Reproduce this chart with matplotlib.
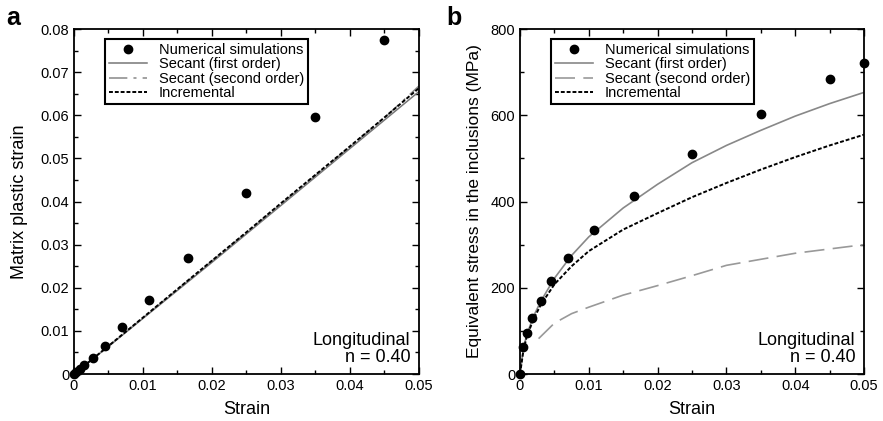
import numpy as np
import matplotlib
matplotlib.use("Agg")
import matplotlib.pyplot as plt
from matplotlib.ticker import MultipleLocator

plt.rcParams['font.family'] = ['Liberation Sans', 'DejaVu Sans']

# === Panel a: matrix plastic strain ===
a_sim_x = [0, 0.0003, 0.0008, 0.0015, 0.0027, 0.0045, 0.007, 0.0108, 0.0165, 0.025, 0.035, 0.045]
a_sim_y = [0, 0.0005, 0.0012, 0.0022, 0.0038, 0.0065, 0.0108, 0.0172, 0.027, 0.042, 0.0597, 0.0775]
a_line_x = [0, 0.005, 0.01, 0.015, 0.02, 0.025, 0.03, 0.035, 0.04, 0.045, 0.05]
a_sec1 = [0, 0.0064, 0.0129, 0.0194, 0.0259, 0.0325, 0.0391, 0.0457, 0.0523, 0.0589, 0.0655]
a_sec2 = [0, 0.0065, 0.0130, 0.0196, 0.0262, 0.0328, 0.0394, 0.0460, 0.0527, 0.0594, 0.0668]
a_incr = [0, 0.0065, 0.0131, 0.0197, 0.0263, 0.0329, 0.0396, 0.0462, 0.0528, 0.0595, 0.0663]

# === Panel b: equivalent stress in the inclusions (MPa) ===
b_sim_x = [0, 0.0005, 0.001, 0.0018, 0.003, 0.0045, 0.007, 0.0108, 0.0165, 0.025, 0.035, 0.045, 0.05]
b_sim_y = [0, 62, 95, 130, 170, 215, 270, 333, 412, 510, 602, 685, 722]
b_line_x = [0, 0.0005, 0.001, 0.002, 0.003, 0.005, 0.0075, 0.01, 0.015, 0.02,
            0.025, 0.03, 0.035, 0.04, 0.045, 0.05]
b_sec1 = [0, 60, 92, 135, 168, 222, 275, 318, 385, 440, 490, 530, 565, 598, 627, 653]
b_incr = [0, 55, 88, 128, 160, 208, 250, 285, 335, 373, 410, 443, 474, 503, 530, 555]
b_sec2_x = [0.0027, 0.005, 0.0075, 0.01, 0.015, 0.02, 0.025, 0.03, 0.035, 0.04, 0.045, 0.05]
b_sec2 = [82, 118, 140, 155, 183, 205, 228, 252, 266, 280, 290, 300]

fig = plt.figure(figsize=(8.83, 4.21), dpi=100)
ax_a = fig.add_axes([0.0838, 0.1116, 0.3907, 0.8195])
ax_b = fig.add_axes([0.5889, 0.1116, 0.3896, 0.8195])


def style_axes(ax):
    ax.tick_params(which='both', direction='in', top=True, right=True, width=1.0, labelsize=10.5)
    ax.tick_params(which='major', length=5)
    ax.tick_params(which='minor', length=3)
    for s in ax.spines.values():
        s.set_linewidth(1.3)
    ax.set_xlim(0, 0.05)
    ax.xaxis.set_major_locator(MultipleLocator(0.01))
    ax.xaxis.set_minor_locator(MultipleLocator(0.005))
    ax.xaxis.set_major_formatter(plt.FuncFormatter(lambda v, p: '0' if v == 0 else f'{v:g}'))
    ax.set_xlabel('Strain', fontsize=13, labelpad=6)
    ax.text(0.975, 0.022, 'Longitudinal\nn = 0.40', transform=ax.transAxes, ha='right', va='bottom',
            fontsize=13, linespacing=1.0)


def add_legend(ax, handles):
    leg = ax.legend(handles=handles, loc='upper left', bbox_to_anchor=(0.09, 0.971),
                    borderaxespad=0, fontsize=10.5, frameon=True, fancybox=False, framealpha=1,
                    edgecolor='black', labelspacing=0.02, handlelength=2.6, handletextpad=0.8,
                    borderpad=0.28)
    leg.get_frame().set_linewidth(1.5)


# Panel a
ax = ax_a
style_axes(ax)
ax.set_ylim(0, 0.08)
ax.yaxis.set_major_locator(MultipleLocator(0.01))
ax.yaxis.set_minor_locator(MultipleLocator(0.005))
ax.yaxis.set_major_formatter(plt.FuncFormatter(lambda v, p: '0' if v == 0 else f'{v:.2f}'))
ax.set_ylabel('Matrix plastic strain', fontsize=13, labelpad=9)
h1, = ax.plot(a_sim_x, a_sim_y, 'o', color='black', ms=6, label='Numerical simulations', clip_on=False, zorder=5)
h2, = ax.plot(a_line_x, a_sec1, '-', color='#777777', lw=1.1, label='Secant (first order)')
h3, = ax.plot(a_line_x, a_sec2, color='#888888', lw=1.1, dashes=(12, 4, 2, 4), label='Secant (second order)')
h4, = ax.plot(a_line_x, a_incr, color='black', lw=1.4, dashes=(2, 1), label='Incremental')
add_legend(ax, [h1, h2, h3, h4])
fig.text(0.007, 0.957, 'a', fontsize=18, fontweight='bold', ha='left', va='center')

# Panel b
ax = ax_b
style_axes(ax)
ax.set_ylim(0, 800)
ax.yaxis.set_major_locator(MultipleLocator(200))
ax.yaxis.set_minor_locator(MultipleLocator(100))
ax.set_ylabel('Equivalent stress in the inclusions (MPa)', fontsize=12.5, labelpad=6)
h1, = ax.plot(b_sim_x, b_sim_y, 'o', color='black', ms=6, label='Numerical simulations', clip_on=False, zorder=5)
h2, = ax.plot(b_line_x, b_sec1, '-', color='#888888', lw=1.2, label='Secant (first order)')
h3, = ax.plot(b_sec2_x, b_sec2, color='#999999', lw=1.2, dashes=(12, 5), label='Secant (second order)')
h4, = ax.plot(b_line_x, b_incr, color='black', lw=1.4, dashes=(2, 1), label='Incremental')
add_legend(ax, [h1, h2, h3, h4])
fig.text(0.505, 0.957, 'b', fontsize=18, fontweight='bold', ha='left', va='center')

fig.savefig('out.png', dpi=100)
